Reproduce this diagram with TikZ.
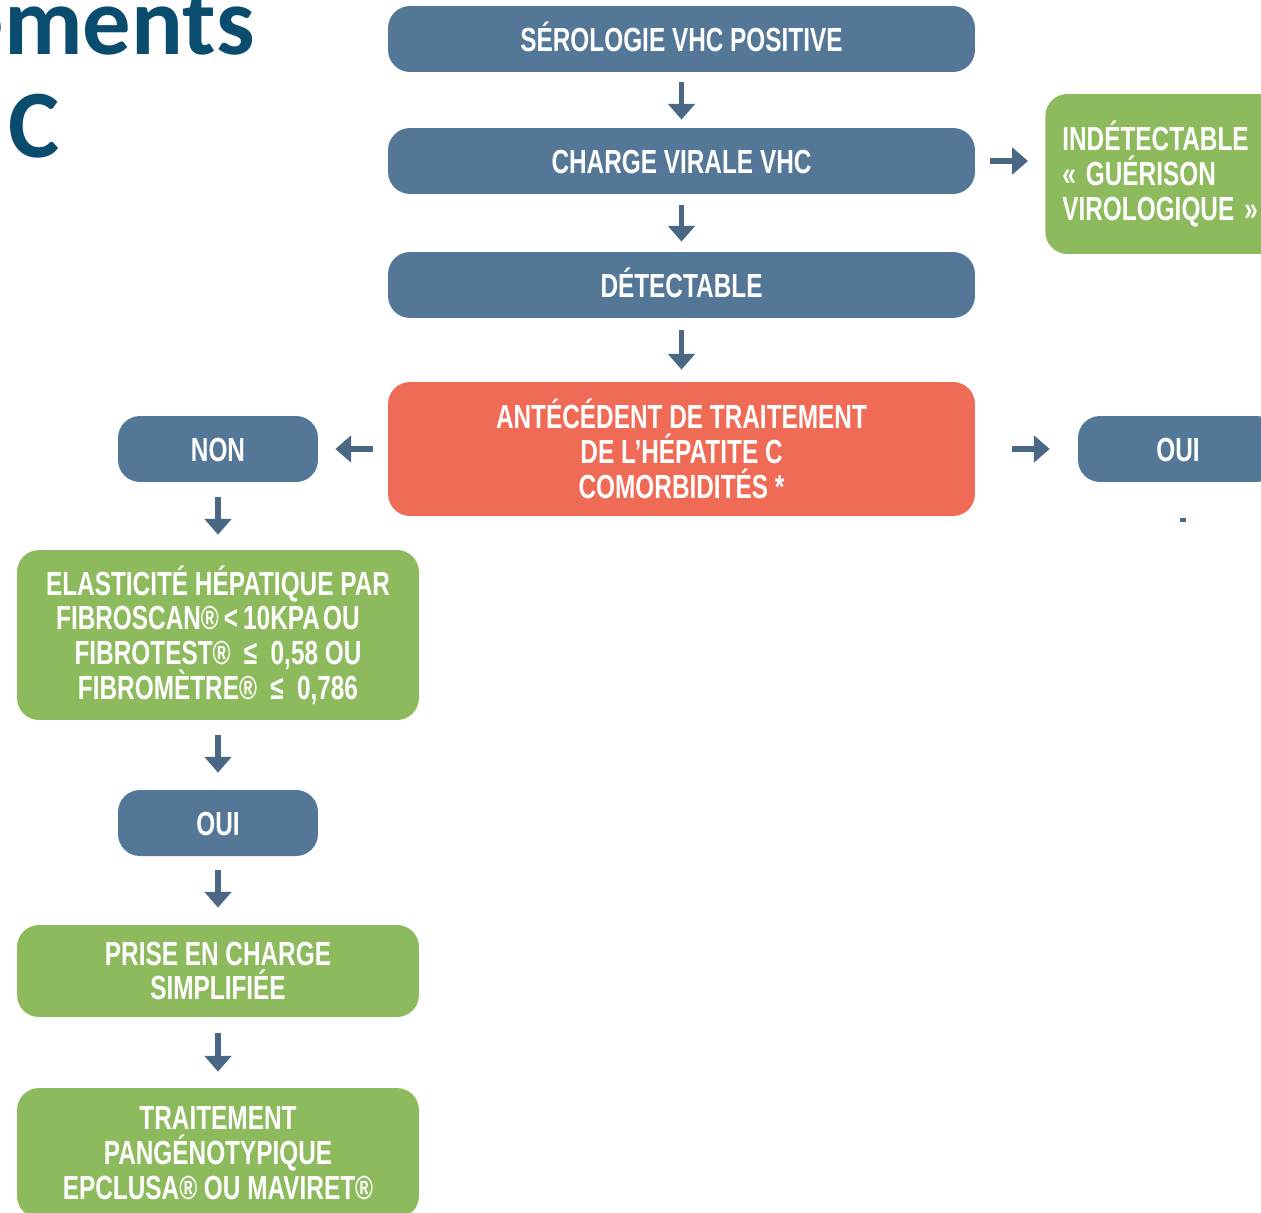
\documentclass[tikz,border=0pt]{standalone}
\usepackage{fontspec}
\usetikzlibrary{arrows.meta}
\newfontfamily\boxfont[FakeStretch=0.73]{Liberation Sans}
\newfontfamily\titlefont{Carlito}
\definecolor{bluebox}{HTML}{557797}
\definecolor{greenbox}{HTML}{8DBA5C}
\definecolor{redbox}{HTML}{F06B55}
\definecolor{arrowc}{HTML}{4A6886}
\definecolor{titlec}{HTML}{0A4C6D}
\tikzset{
  base/.style={rounded corners=0.44cm, text=white, align=center,
    font=\boxfont\bfseries\fontsize{19}{19.8}\selectfont, inner sep=0pt},
  bluewide/.style={base, fill=bluebox, minimum width=11.74cm, minimum height=1.32cm,
    text height=14pt, text depth=0pt},
  redwide/.style={base, fill=redbox, minimum width=11.74cm, minimum height=2.68cm},
  bluesmall/.style={base, fill=bluebox, minimum width=4cm, minimum height=1.32cm,
    text height=14pt, text depth=0pt},
  greenbox/.style={base, fill=greenbox, minimum width=8.04cm},
  arr/.style={draw=arrowc, line width=2.9pt, -{Triangle[width=15pt,length=9pt]}},
  titletext/.style={font=\titlefont\bfseries\fontsize{55}{60}\selectfont, text=titlec, inner sep=0pt}
}
\newcommand{\leqsp}{\hspace{0.4em}≤\hspace{0.4em}}
\begin{document}
\begin{tikzpicture}[x=0.02cm,y=-0.02cm]
\useasboundingbox (0,0) rectangle (1261,1213);
\clip (0,0) rectangle (1261,1213);
% title fragments
\node[titletext, anchor=base east] (title1) at (255,55) {ements};
\node[titletext, anchor=base west] (title2) at (8,158) {C};
% main column
\node[bluewide] (sero) at (681.5,39) {SÉROLOGIE VHC POSITIVE};
\node[bluewide] (charge) at (681.5,161) {CHARGE VIRALE VHC};
\node[bluewide] (detect) at (681.5,285) {DÉTECTABLE};
\node[redwide] (ante) at (681.5,449) {ANTÉCÉDENT DE TRAITEMENT\\DE L’HÉPATITE C\\COMORBIDITÉS *};
% right side
\node[base, fill=greenbox, anchor=west, minimum width=4.9cm, minimum height=3.2cm,
      text width=4.22cm, align=left, inner xsep=0.34cm] (indet) at (1045,174)
      {INDÉTECTABLE\\«\hspace{0.3em}GUÉRISON\\VIROLOGIQUE\hspace{0.3em}»};
\node[bluesmall] (ouiR) at (1178,449) {OUI};
% left column
\node[bluesmall] (non) at (218,449) {NON};
\node[greenbox, minimum height=3.4cm] (elast) at (218,635)
  {ELASTICITÉ HÉPATIQUE PAR\\\hspace*{-0.6em}FIBROSCAN®\hspace{0.15em}<\hspace{0.15em}10KPA\hspace{0.1em}OU\\FIBROTEST®\leqsp 0,58 OU\\FIBROMÈTRE®\leqsp 0,786};
\node[bluesmall] (ouiL) at (218,823) {OUI};
\node[greenbox, minimum height=1.84cm] (prise) at (218,971) {PRISE EN CHARGE\\SIMPLIFIÉE};
\node[greenbox, minimum height=2.6cm] (trait) at (218,1153) {TRAITEMENT\\PANGÉNOTYPIQUE\\EPCLUSA® OU MAVIRET®};
% connectors
\draw[arr, shorten <=0.2cm, shorten >=0.16cm] (sero) -- (charge);
\draw[arr, shorten <=0.22cm, shorten >=0.2cm] (charge) -- (detect);
\draw[arr, shorten <=0.24cm, shorten >=0.24cm] (detect) -- (ante);
\draw[arr, shorten <=0.3cm, shorten >=0.34cm] (charge) -- (charge -| indet.west);
\draw[arr, shorten <=0.3cm, shorten >=0.34cm] (ante) -- (non);
\draw[arr, shorten <=0.74cm, shorten >=0.56cm] (ante) -- (ouiR);
\draw[arr, shorten <=0.3cm, shorten >=0.3cm] (non) -- (elast);
\draw[arr, shorten <=0.3cm, shorten >=0.34cm] (elast) -- (ouiL);
\draw[arr, shorten <=0.28cm, shorten >=0.34cm] (ouiL) -- (prise);
\draw[arr, shorten <=0.32cm, shorten >=0.32cm] (prise) -- (trait);
% small fragment below right OUI
\coordinate (fragA) at ([xshift=0.1cm,yshift=-0.8cm]ouiR.south);
\draw[draw=arrowc, line width=2.9pt] (fragA) -- ++(0,-4);
\end{tikzpicture}
\end{document}
